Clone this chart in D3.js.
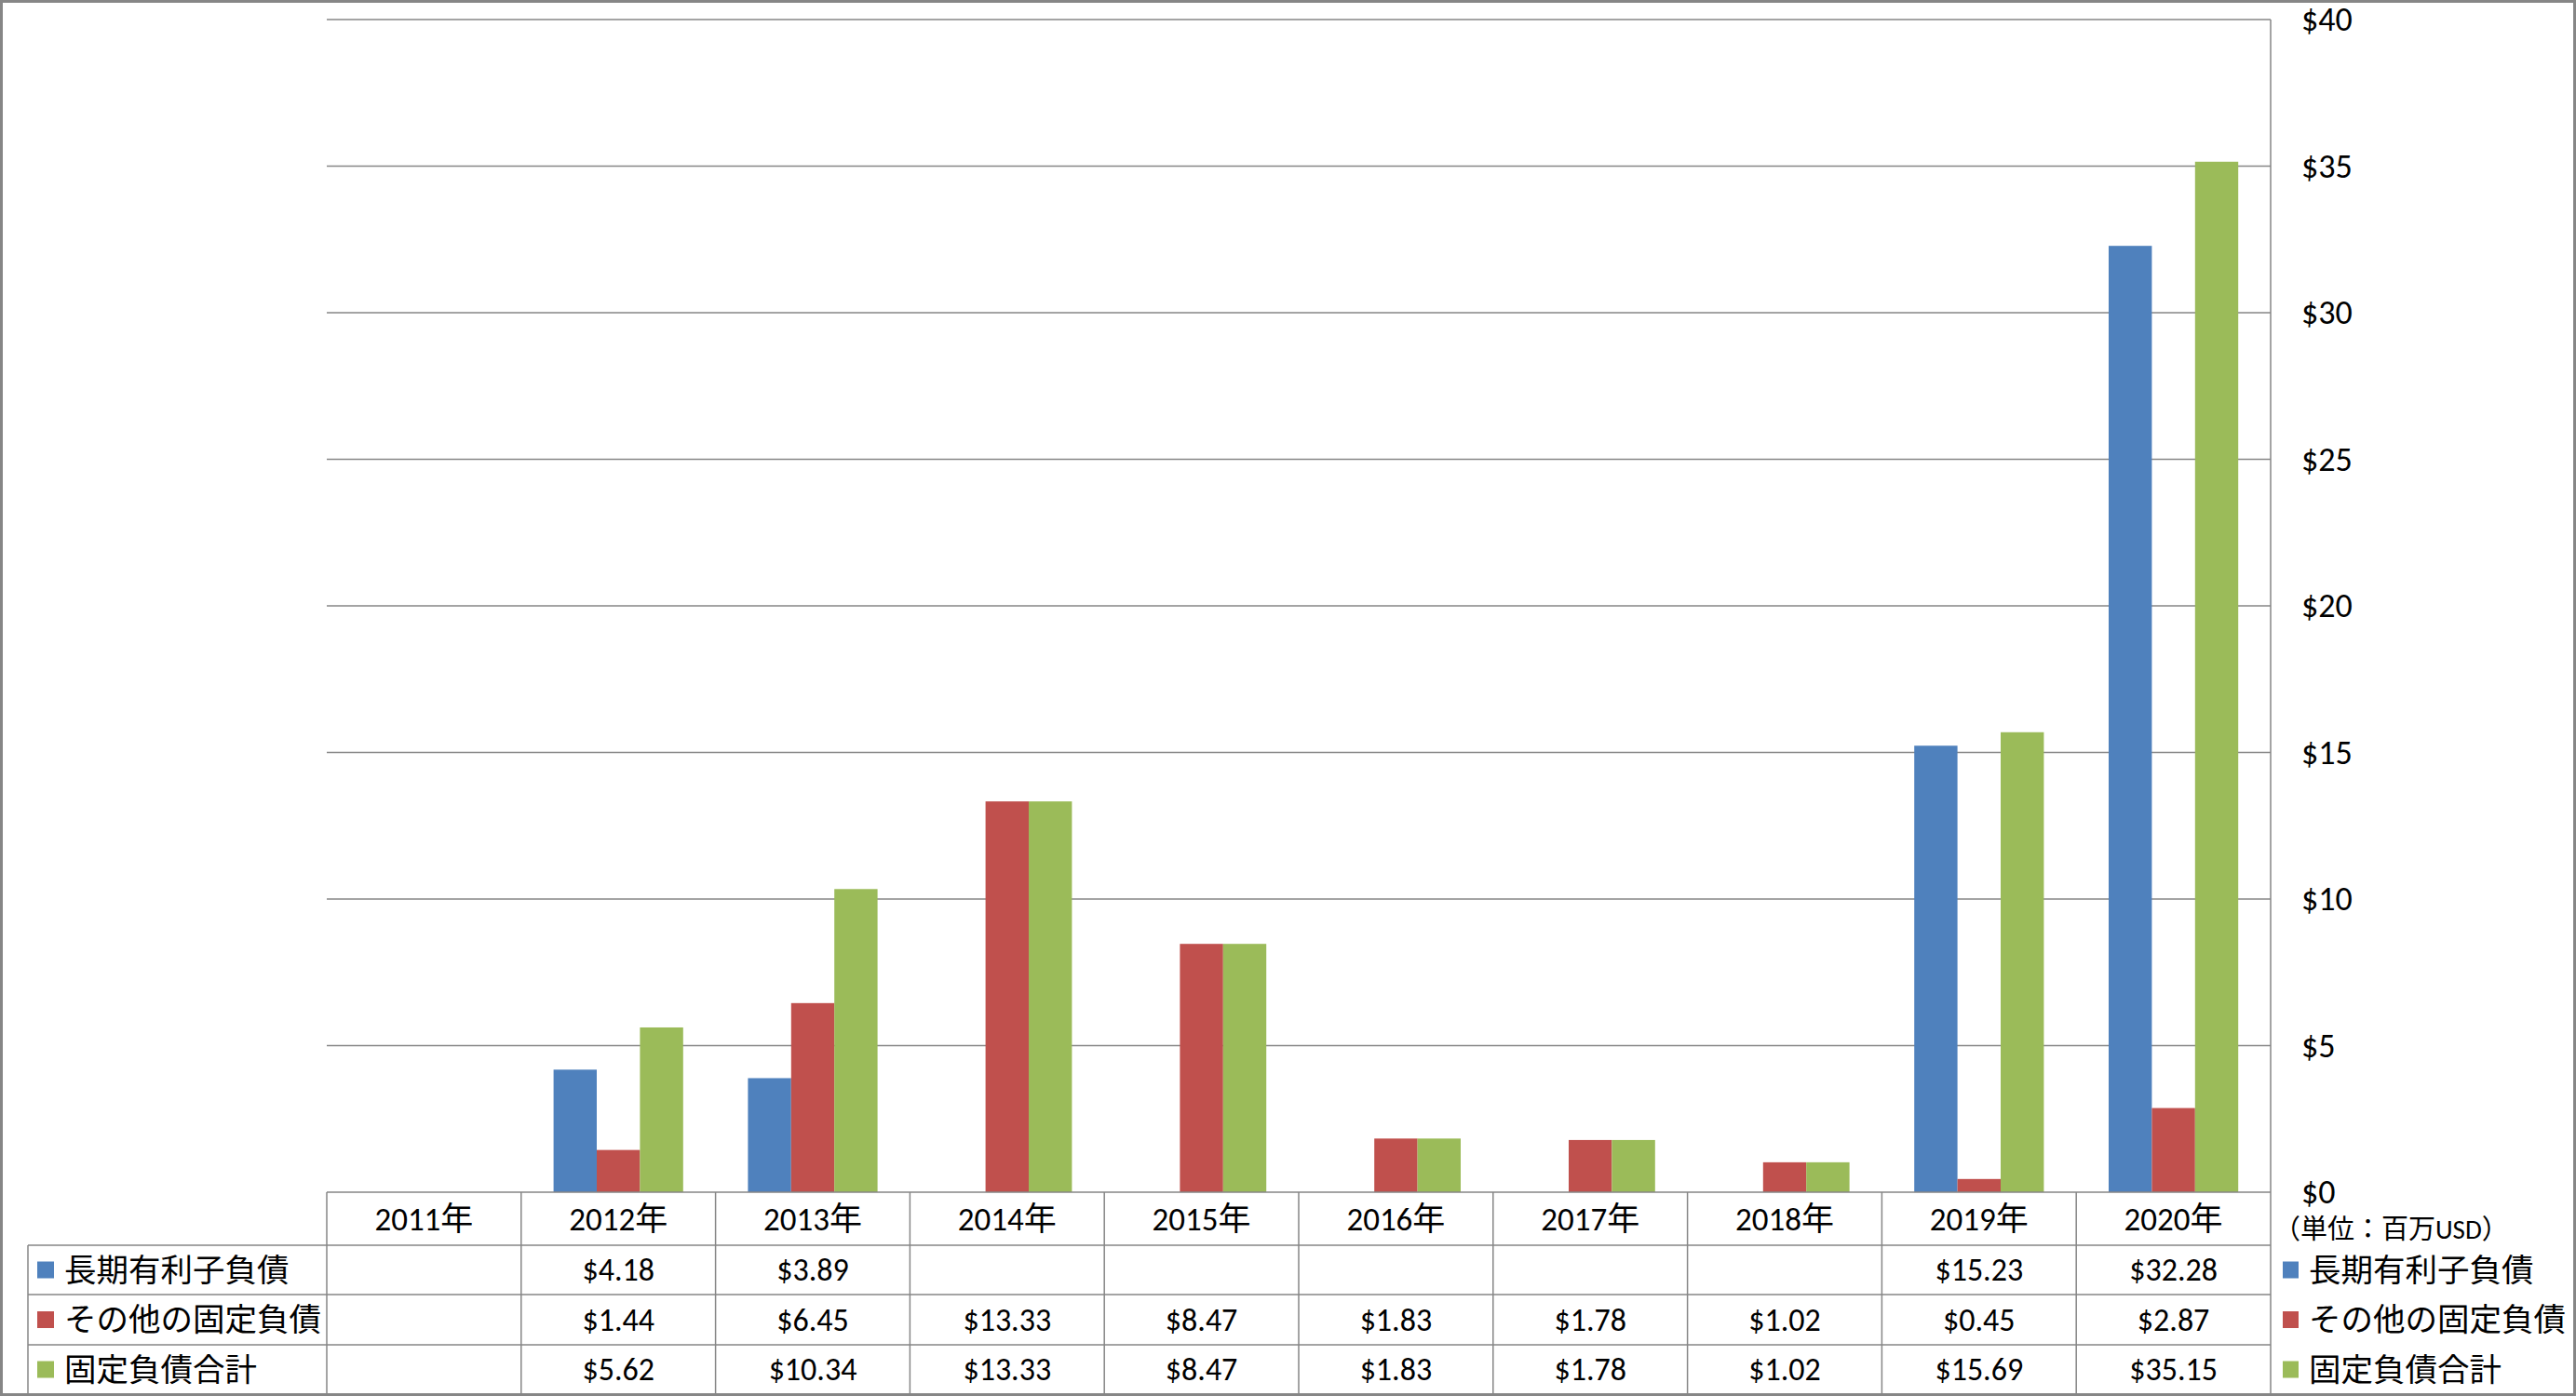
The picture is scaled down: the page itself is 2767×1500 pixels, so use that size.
<!DOCTYPE html>
<html><head><meta charset="utf-8">
<script src="https://cdn.jsdelivr.net/npm/d3@7/dist/d3.min.js"></script>
<style>
html,body{margin:0;padding:0;background:#fff;}
svg{display:block;}
text{font-family:Carlito, Calibri, Lato, "Noto Sans CJK JP", sans-serif;fill:#000;}
</style></head>
<body>
<script>
const categories = ["2011年","2012年","2013年","2014年","2015年","2016年","2017年","2018年","2019年","2020年"];
const seriesNames = ["長期有利子負債","その他の固定負債","固定負債合計"];
const longTermDebt = [null,4.18,3.89,null,null,null,null,null,15.23,32.28];
const otherFixed = [null,1.44,6.45,13.33,8.47,1.83,1.78,1.02,0.45,2.87];
const totalFixed = [null,5.62,10.34,13.33,8.47,1.83,1.78,1.02,15.69,35.15];
const yTicks = [0,5,10,15,20,25,30,35,40];
const unitLabel = "（単位：百万USD）";
const colors = ["#4F81BD","#C0504D","#9BBB59"];
const seriesValues = [longTermDebt, otherFixed, totalFixed];

const W = 2767, H = 1500;
const gray = "#868686";
const plot = {left:351, right:2439, top:21, bottom:1281};
const rowsY = [1281,1338,1391,1445,1498];
const tableLeft = 30;
const FF = 'Carlito, Calibri, Lato, "Noto Sans CJK JP", sans-serif';

const svg = d3.select("body").append("svg").attr("width",W).attr("height",H);
svg.append("rect").attr("x",1.5).attr("y",1.5).attr("width",W-3).attr("height",H-3)
  .attr("fill","#fff").attr("stroke",gray).attr("stroke-width",3);

const x0 = d3.scaleBand().domain(categories).range([plot.left,plot.right]).paddingInner(0).paddingOuter(0);
const x1 = d3.scaleBand().domain(seriesNames).range([0,x0.bandwidth()]).paddingInner(0).paddingOuter(0.75);
const y = d3.scaleLinear().domain([0,40]).range([plot.bottom,plot.top]);

// gridlines
svg.append("g").selectAll("line").data(yTicks.filter(d=>d>0)).join("line")
  .attr("x1",plot.left).attr("x2",plot.right)
  .attr("y1",d=>y(d)).attr("y2",d=>y(d))
  .attr("stroke",gray).attr("stroke-width",1.5);

// bars
const bars = [];
categories.forEach((c,i)=>{
  seriesNames.forEach((s,j)=>{
    const v = seriesValues[j][i];
    if(v!=null) bars.push({c,s,v,j});
  });
});
svg.append("g").selectAll("rect").data(bars).join("rect")
  .attr("x",d=>x0(d.c)+x1(d.s))
  .attr("width",x1.bandwidth())
  .attr("y",d=>y(d.v))
  .attr("height",d=>y(0)-y(d.v))
  .attr("fill",d=>colors[d.j]);

// right axis
const axis = d3.axisRight(y).tickValues(yTicks).tickFormat(d=>"$"+d).tickSize(0).tickPadding(33);
const ag = svg.append("g").attr("transform",`translate(${plot.right},0)`).call(axis);
ag.select(".domain").remove();
ag.selectAll("text").attr("font-size",36).style("font-family",FF).attr("fill","#000");

// table lines
const tg = svg.append("g").attr("stroke",gray).attr("stroke-width",1.5);
tg.append("line").attr("x1",plot.left).attr("x2",plot.right).attr("y1",rowsY[0]).attr("y2",rowsY[0]);
for(let r=1;r<4;r++){
  tg.append("line").attr("x1",tableLeft).attr("x2",plot.right).attr("y1",rowsY[r]).attr("y2",rowsY[r]);
}
tg.append("line").attr("x1",tableLeft).attr("x2",tableLeft).attr("y1",rowsY[1]).attr("y2",rowsY[4]);
categories.forEach(c=>{
  tg.append("line").attr("x1",x0(c)).attr("x2",x0(c)).attr("y1",rowsY[0]).attr("y2",rowsY[4]);
});
tg.append("line").attr("x1",plot.right).attr("x2",plot.right).attr("y1",plot.top).attr("y2",rowsY[4]);

// header labels
svg.append("g").selectAll("text").data(categories).join("text")
  .attr("x",d=>x0(d)+x0.bandwidth()/2)
  .attr("y",(rowsY[0]+rowsY[1])/2)
  .attr("text-anchor","middle").attr("dominant-baseline","central")
  .attr("font-size",35).text(d=>d);

// data cells and legends
seriesNames.forEach((s,j)=>{
  const cy = (rowsY[j+1]+rowsY[j+2])/2;
  svg.append("g").selectAll("text").data(categories.map((c,i)=>({c,v:seriesValues[j][i]})).filter(d=>d.v!=null)).join("text")
    .attr("x",d=>x0(d.c)+x0.bandwidth()/2)
    .attr("y",cy)
    .attr("text-anchor","middle").attr("dominant-baseline","central")
    .attr("font-size",34).text(d=>"$"+d.v.toFixed(2));
  svg.append("rect").attr("x",40).attr("y",cy-9).attr("width",18).attr("height",18).attr("fill",colors[j]);
  svg.append("text").attr("x",69).attr("y",cy).attr("dominant-baseline","central")
    .attr("font-size",34.5).text(s);
  svg.append("rect").attr("x",2452).attr("y",cy-9).attr("width",17).attr("height",18).attr("fill",colors[j]);
  svg.append("text").attr("x",2480).attr("y",cy).attr("dominant-baseline","central")
    .attr("font-size",34.5).text(s);
});

svg.append("text").attr("x",2442).attr("y",1321).attr("dominant-baseline","central")
  .attr("font-size",29).text(unitLabel);
</script>
</body></html>
